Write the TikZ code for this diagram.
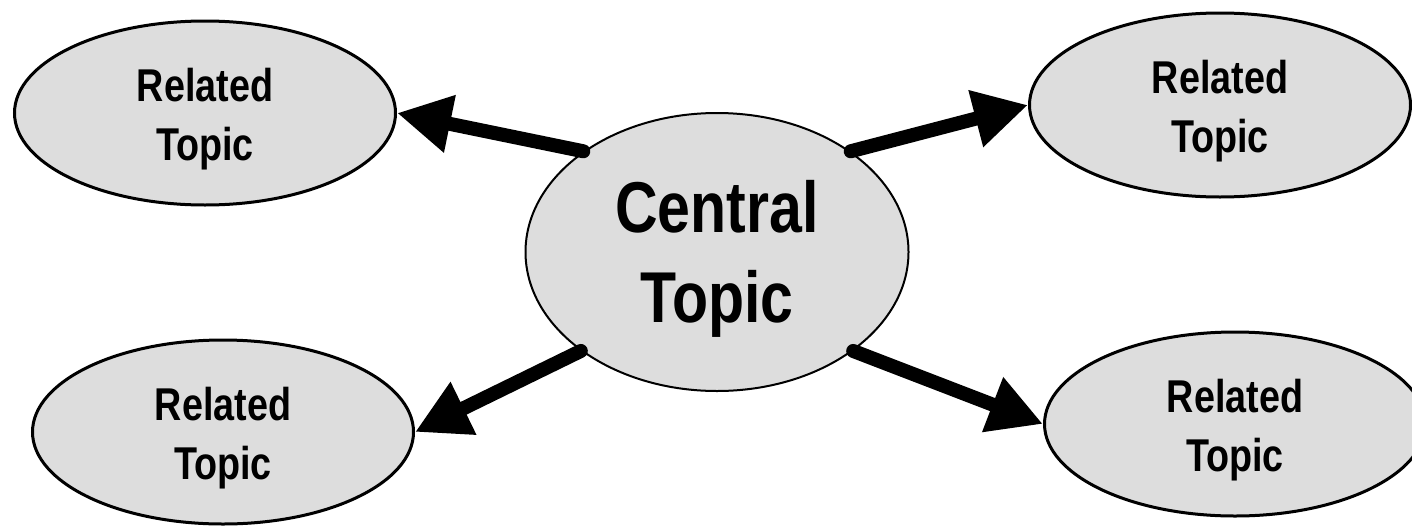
\documentclass[tikz,border=0pt]{standalone}
\usepackage{fontspec}
\setmainfont{Liberation Sans}[FakeStretch=0.82]
\usetikzlibrary{shapes.geometric,arrows.meta}
\definecolor{topicfill}{HTML}{DDDDDD}
% invisible struts that lower the two text lines a little inside the ellipses
\newcommand\relstrut{\rule{0pt}{46pt}}
\newcommand\censtrut{\rule{0pt}{66pt}}
\begin{document}
\begin{tikzpicture}[x=1pt,y=-1pt,
  topic/.style={ellipse, draw=black, fill=topicfill, inner sep=0pt,
    align=center, font=\bfseries},
  related/.style={topic, line width=3pt, minimum width=381pt, minimum height=184pt,
    font=\bfseries\fontsize{46}{59}\selectfont},
  central/.style={topic, line width=2pt, minimum width=383pt, minimum height=278pt,
    font=\bfseries\fontsize{72}{90}\selectfont},
  link/.style={line width=14pt, line cap=round,
    -{Triangle[length=54pt,width=55pt]}}]
  \useasboundingbox (0,0) rectangle (1412,525);

  % topics
  \node[central] (c)  at (717,252) {\censtrut Central\\Topic};
  \node[related] (tl) at (205,113) {\relstrut Related\\Topic};
  \node[related] (tr) at (1220,105) {\relstrut Related\\Topic};
  \node[related] (bl) at (223,432) {\relstrut Related\\Topic};
  \node[related] (br) at (1235,424) {\relstrut Related\\Topic};

  % links from the central topic
  \draw[link] (c.143.3) -- (tl.east);
  \draw[link] (c.216)   -- (bl.east);
  \draw[link] (c.37.5)  -- (tr.west);
  \draw[link] (c.324.6) -- (br.west);
\end{tikzpicture}
\end{document}
